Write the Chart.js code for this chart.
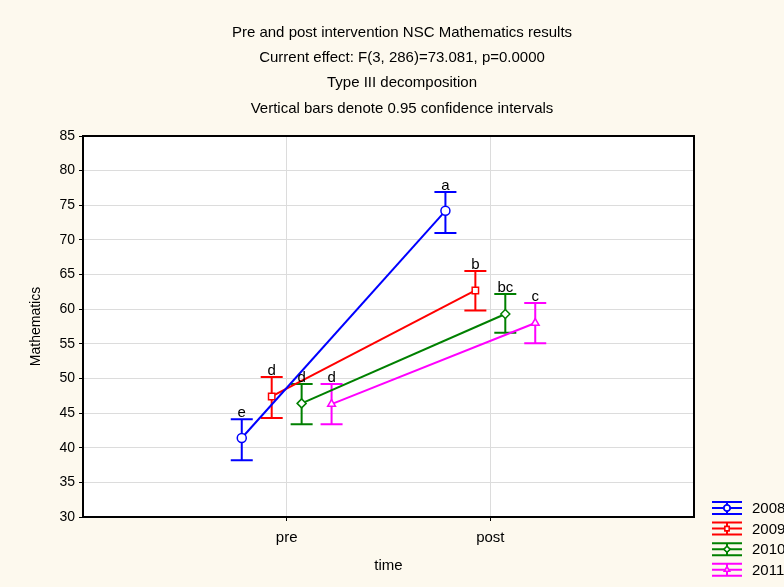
<!DOCTYPE html>
<html>
<head>
    <title>NSC Mathematics results</title>
    <script src='https://cdn.jsdelivr.net/npm/chart.js'></script>
    <style>
        html, body { margin: 0; padding: 0; background: #FDF9EE; }
        #wrap { width: 784px; height: 587px; }
    </style>
</head>
<body>
    <div id="wrap"><canvas id="mathChart" width="784" height="587"></canvas></div>
    <script>
        // values
        const years = ['2008', '2009', '2010', '2011'];
        const times = ['pre', 'post'];
        const meanPre = [41.4, 47.4, 46.4, 46.3];
        const meanPost = [74.2, 62.7, 59.3, 58.0];
        const lowPre = [38.2, 44.3, 43.4, 43.4];
        const highPre = [44.1, 50.2, 49.2, 49.2];
        const lowPost = [71.0, 59.8, 56.6, 55.1];
        const highPost = [76.9, 65.5, 62.2, 60.9];
        const letterPre = ['e', 'd', 'd', 'd'];
        const letterPost = ['a', 'b', 'bc', 'c'];
        const titleLines = [
            'Pre and post intervention NSC Mathematics results',
            'Current effect: F(3, 286)=73.081, p=0.0000',
            'Type III decomposition',
            'Vertical bars denote 0.95 confidence intervals'
        ];

        const colors = ['#0000FF', '#FF0000', '#008000', '#FF00FF'];
        const markers = ['circle', 'rect', 'rectRot', 'triangle'];
        const spread = 0.147; // horizontal dodge between years
        const FONT = 'Liberation Sans, Arial, sans-serif';

        const datasets = years.map((yr, i) => {
            const off = (i - 1.5) * spread;
            return {
                label: yr,
                data: [
                    { x: 1 + off, y: meanPre[i], lo: lowPre[i], hi: highPre[i], tag: letterPre[i] },
                    { x: 2 + off, y: meanPost[i], lo: lowPost[i], hi: highPost[i], tag: letterPost[i] }
                ],
                borderColor: colors[i],
                backgroundColor: colors[i],
                pointBackgroundColor: '#FFFFFF',
                pointBorderColor: colors[i],
                pointStyle: markers[i],
                pointRadius: 4.5,
                pointBorderWidth: 1.5,
                borderWidth: 2,
                fill: false
            };
        });

        const backdrop = {
            id: 'backdrop',
            beforeDraw(chart) {
                const { ctx, chartArea: a } = chart;
                ctx.save();
                ctx.fillStyle = '#FDF9EE';
                ctx.fillRect(0, 0, chart.width, chart.height);
                ctx.fillStyle = '#FFFFFF';
                ctx.fillRect(a.left, a.top, a.right - a.left, a.bottom - a.top);
                ctx.restore();
            }
        };

        const errorBars = {
            id: 'errorBars',
            beforeDatasetsDraw(chart) {
                const { ctx } = chart;
                const yScale = chart.scales.y;
                ctx.save();
                chart.data.datasets.forEach((ds, i) => {
                    const meta = chart.getDatasetMeta(i);
                    ctx.strokeStyle = ds.borderColor;
                    ctx.lineWidth = 2;
                    meta.data.forEach((pt, j) => {
                        const d = ds.data[j];
                        const yLo = yScale.getPixelForValue(d.lo);
                        const yHi = yScale.getPixelForValue(d.hi);
                        ctx.beginPath();
                        ctx.moveTo(pt.x, yLo);
                        ctx.lineTo(pt.x, yHi);
                        ctx.moveTo(pt.x - 11, yLo);
                        ctx.lineTo(pt.x + 11, yLo);
                        ctx.moveTo(pt.x - 11, yHi);
                        ctx.lineTo(pt.x + 11, yHi);
                        ctx.stroke();
                    });
                });
                ctx.restore();
            },
            afterDatasetsDraw(chart) {
                const { ctx } = chart;
                const yScale = chart.scales.y;
                ctx.save();
                ctx.fillStyle = '#000000';
                ctx.font = '15px ' + FONT;
                ctx.textAlign = 'center';
                ctx.textBaseline = 'alphabetic';
                chart.data.datasets.forEach((ds, i) => {
                    chart.getDatasetMeta(i).data.forEach((pt, j) => {
                        const d = ds.data[j];
                        ctx.fillText(d.tag, pt.x, yScale.getPixelForValue(d.hi) - 2);
                    });
                });
                ctx.restore();
            }
        };

        const frame = {
            id: 'frame',
            afterDraw(chart) {
                const { ctx, chartArea: a } = chart;
                ctx.save();
                ctx.strokeStyle = '#000000';
                ctx.lineWidth = 2;
                ctx.strokeRect(a.left, a.top, a.right - a.left, a.bottom - a.top);

                // title block, centred a little right of the plot centre like the original
                ctx.fillStyle = '#000000';
                ctx.font = '15px ' + FONT;
                ctx.textAlign = 'center';
                ctx.textBaseline = 'alphabetic';
                titleLines.forEach((t, k) => ctx.fillText(t, 402, 37 + k * 25.2));

                // legend
                chart.data.datasets.forEach((ds, i) => {
                    const y = 508 + i * 20.6;
                    const x0 = 712, x1 = 742, xm = 727;
                    ctx.strokeStyle = ds.borderColor;
                    ctx.lineWidth = 2;
                    ctx.beginPath();
                    ctx.moveTo(x0, y - 6); ctx.lineTo(x1, y - 6);
                    ctx.moveTo(x0, y); ctx.lineTo(x1, y);
                    ctx.moveTo(x0, y + 6); ctx.lineTo(x1, y + 6);
                    ctx.moveTo(xm, y - 6); ctx.lineTo(xm, y + 6);
                    ctx.stroke();
                    ctx.fillStyle = '#FFFFFF';
                    ctx.lineWidth = 1.5;
                    Chart.helpers.drawPoint(ctx, { pointStyle: ds.pointStyle, radius: 3, rotation: 0, borderWidth: 1.5 }, xm, y);
                    ctx.fill();
                    ctx.stroke();
                    ctx.fillStyle = '#000000';
                    ctx.textAlign = 'left';
                    ctx.textBaseline = 'middle';
                    ctx.fillText(ds.label, 752, y + 1);
                });
                ctx.restore();
            }
        };

        new Chart(document.getElementById('mathChart').getContext('2d'), {
            type: 'line',
            data: { datasets: datasets },
            options: {
                responsive: false,
                animation: false,
                layout: { padding: { top: 136, right: 90, left: 0, bottom: 0 } },
                plugins: {
                    legend: { display: false },
                    title: { display: false },
                    tooltip: { enabled: false }
                },
                scales: {
                    x: {
                        type: 'linear',
                        min: 0,
                        max: 3,
                        afterBuildTicks: (scale) => {
                            scale.ticks = times.map((t, k) => ({ value: k + 1 }));
                        },
                        afterFit: (scale) => { scale.height = 70; },
                        ticks: {
                            callback: (v) => times[v - 1],
                            color: '#000000',
                            font: { family: FONT, size: 15 },
                            padding: 8,
                            maxRotation: 0
                        },
                        grid: { color: '#DCDCDC', tickColor: '#000000', tickLength: 4, lineWidth: 1 },
                        border: { color: '#000000', width: 2 },
                        title: {
                            display: true,
                            text: 'time',
                            color: '#000000',
                            font: { family: FONT, size: 15 },
                            padding: { top: 0, bottom: 12 }
                        }
                    },
                    y: {
                        min: 30,
                        max: 85,
                        afterFit: (scale) => { scale.width = 83; },
                        ticks: {
                            stepSize: 5,
                            color: '#000000',
                            font: { family: FONT, size: 14 },
                            padding: 4
                        },
                        grid: { color: '#DCDCDC', tickColor: '#000000', tickLength: 4, lineWidth: 1 },
                        border: { color: '#000000', width: 2 },
                        title: {
                            display: true,
                            text: 'Mathematics',
                            color: '#000000',
                            font: { family: FONT, size: 14 },
                            padding: { top: 28, bottom: 0 }
                        }
                    }
                }
            },
            plugins: [backdrop, errorBars, frame]
        });
    </script>
</body>
</html>
